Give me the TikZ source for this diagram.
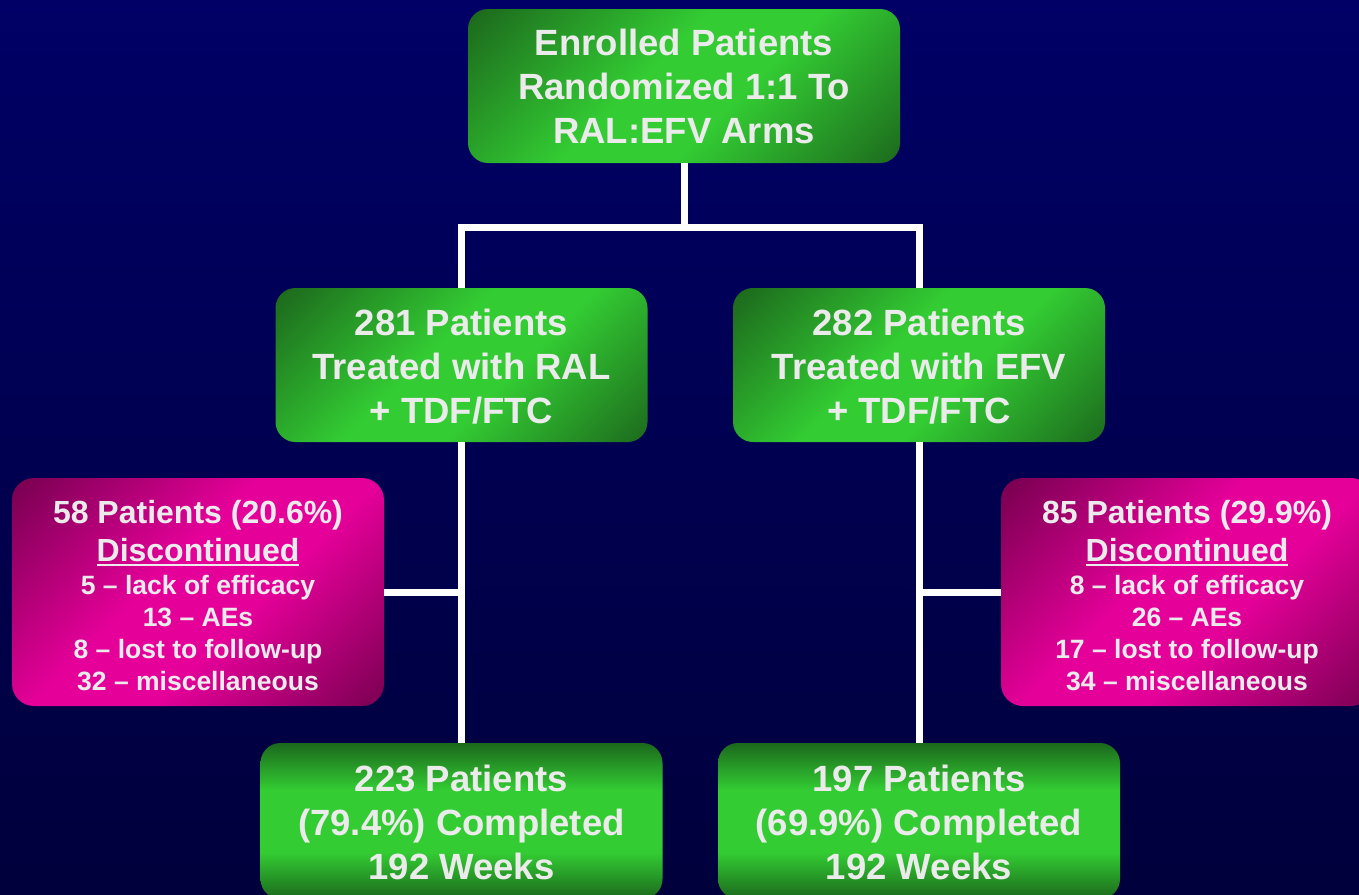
\documentclass[tikz,border=0pt]{standalone}
\usepackage{fontspec}
\setmainfont{Liberation Sans}
\definecolor{bgtop}{HTML}{000066}
\definecolor{bgbot}{HTML}{00003C}
\definecolor{gdark}{HTML}{1C681C}
\definecolor{gbright}{HTML}{33CC33}
\definecolor{mdark}{HTML}{780050}
\definecolor{mbright}{HTML}{E6009A}
\definecolor{txt}{HTML}{EBEBEB}
\pgfdeclareverticalshading{gdiag}{100bp}{color(0bp)=(gdark); color(14bp)=(gdark); color(42bp)=(gbright); color(56bp)=(gbright); color(85bp)=(gdark); color(100bp)=(gdark)}
\pgfdeclareverticalshading{gvert}{100bp}{color(0bp)=(gdark); color(25bp)=(gdark); color(40bp)=(gbright); color(60bp)=(gbright); color(75bp)=(gdark); color(100bp)=(gdark)}
\pgfdeclareverticalshading{mdiag}{100bp}{color(0bp)=(mdark); color(14bp)=(mdark); color(42bp)=(mbright); color(56bp)=(mbright); color(85bp)=(mdark); color(100bp)=(mdark)}
\newcommand\bigf{\fontsize{36.5}{44}\selectfont\bfseries}
\newcommand\medf{\fontsize{32}{38}\selectfont\bfseries}
\newcommand\smlf{\fontsize{26.5}{32}\selectfont\bfseries}
\newcommand\myul[1]{\setbox0\hbox{#1}\rlap{\rule[-5pt]{\wd0}{2.5pt}}\box0}
\newcommand\lift[1]{\rule{0pt}{#1pt}}
\begin{document}
\begin{tikzpicture}[x=1pt,y=-1pt,
  gbox/.style={rounded corners=20pt, inner sep=0pt, align=center, text=txt, font=\bigf,
     shading=gdiag, shading angle=45},
  gboxv/.style={gbox, shading=gvert, shading angle=0},
  mbox/.style={rounded corners=22pt, inner sep=0pt, align=center, text=txt, font=\smlf,
     shading=mdiag, shading angle=45},
  conn/.style={draw=white, line width=7pt}]
\useasboundingbox (0,0) rectangle (1359,894);
\fill[top color=bgtop, bottom color=bgbot] (0,0) rectangle (1359,894);

\node[gbox, minimum width=432pt, minimum height=154pt] (top) at (684,86)
  {\lift{27}Enrolled Patients\\Randomized 1:1 To\\RAL:EFV Arms};
\node[gbox, minimum width=372pt, minimum height=154pt] (midL) at (461.5,365)
  {\lift{30}281 Patients\\Treated with RAL\\+ TDF/FTC};
\node[gbox, minimum width=372pt, minimum height=154pt] (midR) at (919,365)
  {\lift{30}282 Patients\\Treated with EFV\\+ TDF/FTC};
\node[mbox, minimum width=372pt, minimum height=228pt] (disL) at (198,592)
  {{\medf\lift{29.5}58 Patients (20.6\%)}\\[6pt]{\medf\myul{Discontinued}}\\[1pt]5 -- lack of efficacy\\13 -- AEs\\8 -- lost to follow-up\\32 -- miscellaneous};
\node[mbox, minimum width=372pt, minimum height=228pt] (disR) at (1187,592)
  {{\medf\lift{29.5}85 Patients (29.9\%)}\\[6pt]{\medf\myul{Discontinued}}\\[1pt]8 -- lack of efficacy\\26 -- AEs\\17 -- lost to follow-up\\34 -- miscellaneous};
\node[gboxv, minimum width=402pt, minimum height=156pt] (botL) at (461.5,821)
  {\lift{28.5}223 Patients\\(79.4\%) Completed\\192 Weeks};
\node[gboxv, minimum width=402pt, minimum height=156pt] (botR) at (919,821)
  {\lift{28.5}197 Patients\\(69.9\%) Completed\\192 Weeks};

\coordinate (split) at (684,227);
\draw[conn] (top.south) -- (split);
\draw[conn] (midL.north) |- (split) -| (midR.north);
\draw[conn] (midL.south) -- (botL.north);
\draw[conn] (midR.south) -- (botR.north);
\draw[conn] (disL.east) -- (disL.east -| midL.south);
\draw[conn] (disR.west) -- (disR.west -| midR.south);
\end{tikzpicture}
\end{document}
